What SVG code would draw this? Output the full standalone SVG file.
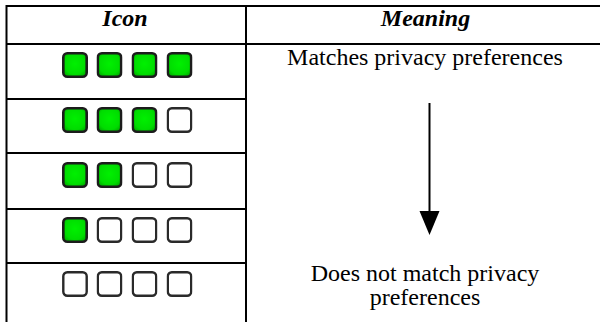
<svg xmlns="http://www.w3.org/2000/svg" width="600" height="322" viewBox="0 0 600 322">
  <style>
    .grid { stroke: #000; stroke-width: 2; fill: none; }
    .hdr { font-family: "Liberation Serif", "Times New Roman", serif; font-size: 24px; font-weight: bold; font-style: italic; fill: #000; text-anchor: middle; }
    .txt { font-family: "Liberation Serif", "Times New Roman", serif; font-size: 24px; fill: #000; text-anchor: middle; }
    .on { fill: url(#g); stroke: #1c1c1c; stroke-width: 2.6; filter: url(#soft); }
    .off { fill: #fff; stroke: #2a2a2a; stroke-width: 2.4; filter: url(#soft); }
  </style>
  <defs>
    <radialGradient id="g" cx="50%" cy="45%" r="65%">
      <stop offset="0" stop-color="#00f000"/>
      <stop offset="0.7" stop-color="#00dc00"/>
      <stop offset="1" stop-color="#00a800"/>
    </radialGradient>
    <filter id="soft" x="-10%" y="-10%" width="120%" height="120%">
      <feGaussianBlur stdDeviation="0.45"/>
    </filter>
    <symbol id="on" viewBox="0 0 26 26"><rect class="on" x="1.3" y="1.3" width="23.4" height="23.4" rx="4"/></symbol>
    <symbol id="off" viewBox="0 0 26 26"><rect class="off" x="1.3" y="1.3" width="23.4" height="23.4" rx="4"/></symbol>
  </defs>
  <rect width="600" height="322" fill="#fff"/>

  <g id="table">
    <line class="grid" x1="6" y1="6" x2="600" y2="6"/>
    <line class="grid" x1="6" y1="44" x2="600" y2="44"/>
    <line class="grid" x1="6.5" y1="5" x2="6.5" y2="322"/>
    <line class="grid" x1="246" y1="5" x2="246" y2="322"/>
    <line class="grid" x1="6" y1="99" x2="246" y2="99"/>
    <line class="grid" x1="6" y1="153" x2="246" y2="153"/>
    <line class="grid" x1="6" y1="209" x2="246" y2="209"/>
    <line class="grid" x1="6" y1="263" x2="246" y2="263"/>
  </g>

  <g id="header-icon"><text class="hdr" x="125" y="26">Icon</text></g>
  <g id="header-meaning"><text class="hdr" x="425.5" y="26">Meaning</text></g>

  <g id="icon-4">
    <use href="#on" x="62" y="52" width="26" height="26"/>
    <use href="#on" x="96.5" y="52" width="26" height="26"/>
    <use href="#on" x="131.5" y="52" width="26" height="26"/>
    <use href="#on" x="166.5" y="52" width="26" height="26"/>
  </g>
  <g id="icon-3">
    <use href="#on" x="62" y="107" width="26" height="26"/>
    <use href="#on" x="96.5" y="107" width="26" height="26"/>
    <use href="#on" x="131.5" y="107" width="26" height="26"/>
    <use href="#off" x="166.5" y="107" width="26" height="26"/>
  </g>
  <g id="icon-2">
    <use href="#on" x="62" y="162" width="26" height="26"/>
    <use href="#on" x="96.5" y="162" width="26" height="26"/>
    <use href="#off" x="131.5" y="162" width="26" height="26"/>
    <use href="#off" x="166.5" y="162" width="26" height="26"/>
  </g>
  <g id="icon-1">
    <use href="#on" x="62" y="217" width="26" height="26"/>
    <use href="#off" x="96.5" y="217" width="26" height="26"/>
    <use href="#off" x="131.5" y="217" width="26" height="26"/>
    <use href="#off" x="166.5" y="217" width="26" height="26"/>
  </g>
  <g id="icon-0">
    <use href="#off" x="62" y="271" width="26" height="26"/>
    <use href="#off" x="96.5" y="271" width="26" height="26"/>
    <use href="#off" x="131.5" y="271" width="26" height="26"/>
    <use href="#off" x="166.5" y="271" width="26" height="26"/>
  </g>

  <g id="label-top"><text class="txt" x="425" y="65">Matches privacy preferences</text></g>
  <g id="label-bottom">
    <text class="txt" x="425" y="281">Does not match privacy</text>
    <text class="txt" x="425" y="305">preferences</text>
  </g>

  <g id="connectors">
    <line x1="429.5" y1="103" x2="429.5" y2="213" stroke="#000" stroke-width="2"/>
    <polygon points="419.5,211 439.5,211 429.5,235" fill="#000"/>
  </g>
</svg>
